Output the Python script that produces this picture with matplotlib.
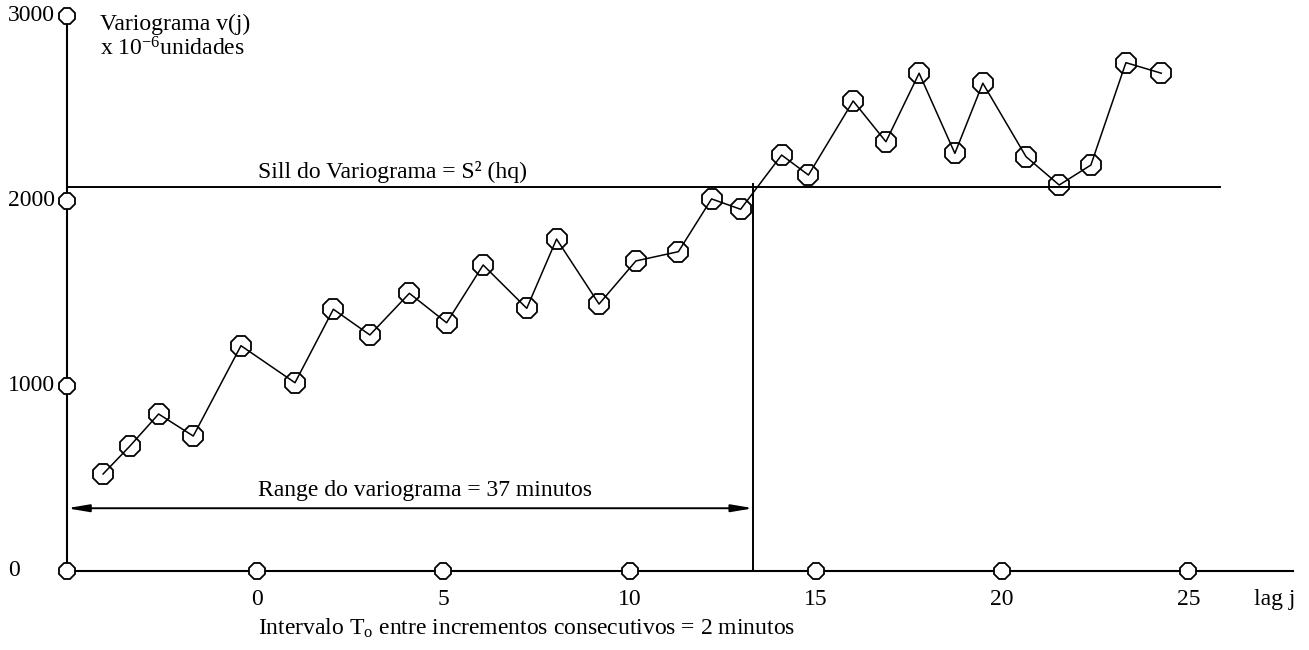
import matplotlib.pyplot as plt

plt.rcParams['font.family'] = ['Liberation Serif', 'DejaVu Serif']
plt.rcParams['mathtext.fontset'] = 'custom'
plt.rcParams['mathtext.rm'] = 'Liberation Serif'
plt.rcParams['mathtext.it'] = 'Liberation Serif:italic'

lags = [-4.13, -3.41, -2.64, -1.71, -0.43, 1.02, 2.05, 3.03, 4.09, 5.09,
        6.07, 7.24, 8.04, 9.18, 10.17, 11.31, 12.20, 12.98, 14.08, 14.80,
        16.00, 16.88, 17.77, 18.73, 19.48, 20.64, 21.53, 22.38, 23.32, 24.27]
vario = [524, 675, 848, 729, 1217, 1017, 1414, 1275, 1500, 1341,
         1653, 1419, 1793, 1442, 1675, 1725, 2010, 1954, 2247, 2139,
         2539, 2319, 2689, 2256, 2635, 2238, 2085, 2193, 2746, 2689]

x_ticks = [0, 5, 10, 15, 20, 25]
y_ticks = [0, 1000, 2000, 3000]
sill = 2073
range_lag = 13.32
range_arrow_y = 339
x_origin = -5.1
x_end = 27.8
sill_end = 25.85

fig = plt.figure(figsize=(13.09, 6.5), dpi=100)
ax = fig.add_axes([0, 0, 1, 1])
ax.set_xlim(-6.897, 28.234)
ax.set_ylim(-426.8, 3084.5)
ax.axis('off')

# axes drawn by hand, like the original sketch
ax.plot([x_origin, x_end], [0, 0], color='black', lw=1.5, zorder=2)
ax.plot([x_origin, x_origin], [0, 3000], color='black', lw=1.5, zorder=2)

# tick circles
ax.plot(x_ticks, [0] * len(x_ticks), ls='none', marker='8', ms=12,
        mfc='white', mec='black', mew=1.3, zorder=4)
ax.plot([x_origin] * len(y_ticks), y_ticks, ls='none', marker='8', ms=12,
        mfc='white', mec='black', mew=1.3, zorder=4)

# sill and range
ax.plot([x_origin, sill_end], [sill, sill], color='black', lw=1.4, zorder=2)
ax.plot([range_lag, range_lag], [0, sill + 15], color='black', lw=1.4, zorder=2)
ax.annotate('', xy=(x_origin, range_arrow_y), xytext=(range_lag, range_arrow_y),
            arrowprops=dict(arrowstyle='<|-|>,head_length=1.3,head_width=0.22',
                            mutation_scale=10, color='black', lw=1.4,
                            shrinkA=0, shrinkB=0))

# variogram
ax.plot(lags, vario, color='black', lw=1.1, marker='8', ms=15,
        mfc='none', mec='black', mew=1.3, zorder=3)

# tick labels
for t in x_ticks:
    ax.text(t, -183.7, str(t), ha='center', va='baseline', fontsize=17)
for t in y_ticks:
    ax.text(-6.68, t, str(t), ha='left', va='center', fontsize=17)

ax.text(26.76, -183.7, 'lag j', ha='left', va='baseline', fontsize=17)
ax.text(0.03, 2155, 'Sill do Variograma = S² (hq)', ha='left', va='center', fontsize=17)
ax.text(0.03, 437, 'Range do variograma = 37 minutos', ha='left', va='center', fontsize=17)
ax.text(0.03, -308, r'Intervalo T$_\mathrm{o}$ entre incrementos consecutivos = 2 minutos',
        ha='left', va='center', fontsize=17)
ax.text(-4.21, 2922, 'Variograma v(j)', ha='left', va='baseline', fontsize=17)
ax.text(-4.21, 2782, r'x 10$^{-6}$unidades', ha='left', va='baseline', fontsize=17)

fig.savefig('out.png', dpi=100)
